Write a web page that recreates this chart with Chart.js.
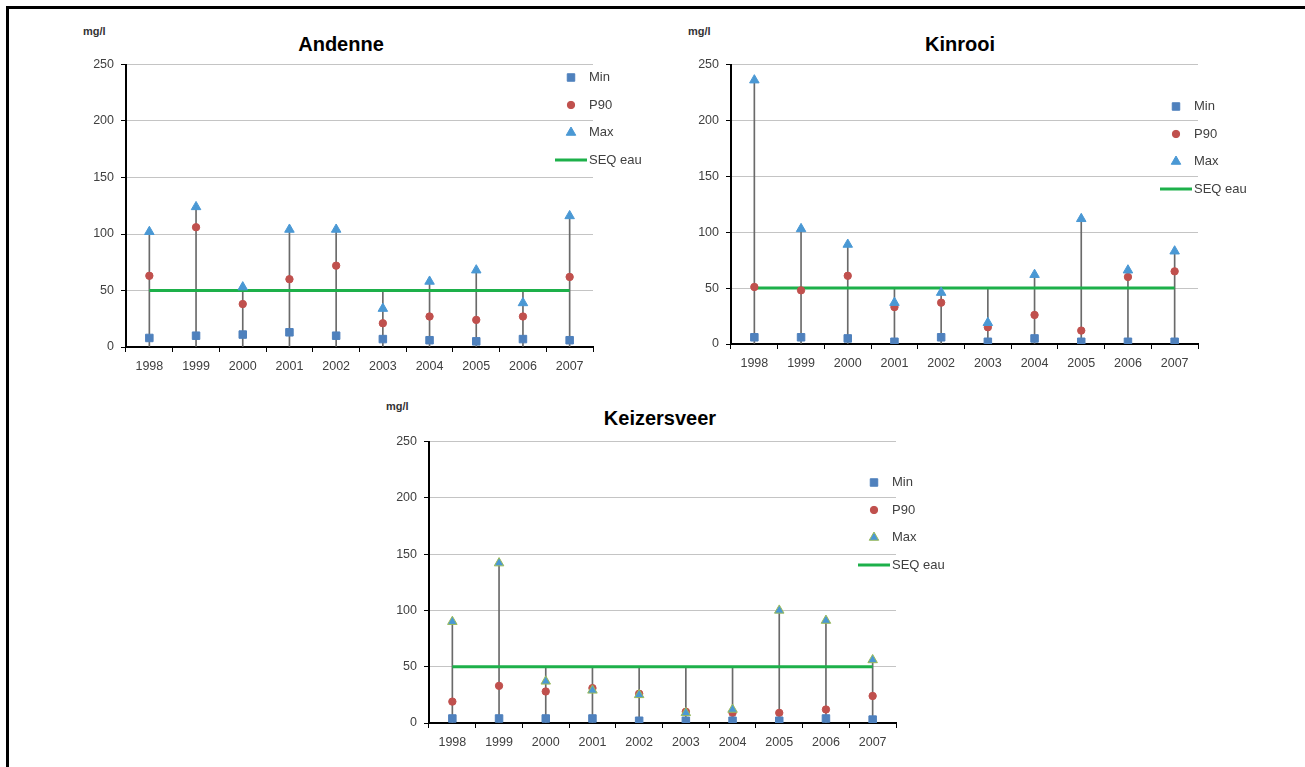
<!DOCTYPE html>
<html>
<head>
<meta charset="utf-8">
<script src="https://cdn.jsdelivr.net/npm/chart.js@4.4.0/dist/chart.umd.min.js"></script>
<style>
  body { margin:0; background:#fff; width:1305px; height:767px; overflow:hidden; position:relative; font-family:"Liberation Sans", Arial, sans-serif; }
  .frame { position:absolute; left:6px; top:6px; right:0; bottom:0; border-top:3px solid #000; border-left:3px solid #000; }
  .title { position:absolute; font-weight:bold; font-size:20px; transform:translate(-50%,-50%); white-space:nowrap; color:#000; }
  .unit { position:absolute; font-weight:bold; font-size:11px; color:#333; transform:translate(0,-50%); }
  canvas { position:absolute; }
</style>
</head>
<body>
<div class="frame"></div>

<div class="unit" style="left:83px;top:31px">mg/l</div>
<div class="title" style="left:341px;top:44px">Andenne</div>
<canvas id="andenneChart" width="580" height="335" style="left:80px;top:50px"></canvas>

<div class="unit" style="left:688px;top:31px">mg/l</div>
<div class="title" style="left:960px;top:44px">Kinrooi</div>
<canvas id="kinrooiChart" width="580" height="332" style="left:685px;top:50px"></canvas>

<div class="unit" style="left:386px;top:406px">mg/l</div>
<div class="title" style="left:660px;top:418px">Keizersveer</div>
<canvas id="keizersveerChart" width="580" height="334" style="left:383px;top:427px"></canvas>

<script>
// 年
const years = ['1998', '1999', '2000', '2001', '2002', '2003', '2004', '2005', '2006', '2007'];
const seqEau = [50, 50, 50, 50, 50, 50, 50, 50, 50, 50];

// Andenne
const andenneMin = [8, 10, 11, 13, 10, 7, 6, 5, 7, 6];
const andenneP90 = [63, 106, 38, 60, 72, 21, 27, 24, 27, 62];
const andenneMax = [102, 124, 53, 104, 104, 34, 58, 68, 39, 116];

// Kinrooi
const kinrooiMin = [6, 6, 5, 2, 6, 2, 5, 2, 2, 2];
const kinrooiP90 = [51, 48, 61, 33, 37, 15, 26, 12, 60, 65];
const kinrooiMax = [236, 103, 89, 37, 46, 19, 62, 112, 66, 83];

// Keizersveer
const keizersveerMin = [4, 4, 4, 4, 2, 2, 2, 2, 4, 3];
const keizersveerP90 = [19, 33, 28, 31, 26, 10, 9, 9, 12, 24];
const keizersveerMax = [90, 142, 37, 29, 25, 9, 12, 100, 91, 56];

const fontFamily = '"Liberation Sans", Arial, sans-serif';
const textColor = '#404040';

// legend drawn inside the plot, like the excel one
const seqLegend = {
  id: 'seqLegend',
  afterDraw(chart, args, opts) {
    const ctx = chart.ctx;
    const area = chart.chartArea;
    const markerX = area.right - 22;
    const textX = area.right - 4;
    let y = area.top + opts.offset;
    ctx.save();
    ctx.font = '13px ' + fontFamily;
    ctx.textBaseline = 'middle';
    chart.data.datasets.forEach(ds => {
      if (!ds.label) return;
      if (ds.pointRadius > 0) {
        ctx.fillStyle = ds.backgroundColor;
        ctx.strokeStyle = ds.borderColor;
        ctx.lineWidth = 1;
        Chart.helpers.drawPoint(ctx, {pointStyle: ds.pointStyle, radius: ds.pointRadius, rotation: 0, borderWidth: 1}, markerX, y);
      } else {
        ctx.strokeStyle = ds.borderColor;
        ctx.lineWidth = ds.borderWidth;
        ctx.beginPath();
        ctx.moveTo(area.right - 38, y);
        ctx.lineTo(area.right - 6, y);
        ctx.stroke();
      }
      ctx.fillStyle = textColor;
      ctx.fillText(ds.label, textX, y);
      y += 27.5;
    });
    ctx.restore();
  }
};

function makeChart(id, minData, p90Data, maxData, legendOffset, maxBorder) {
  // drop lines: from 0 to the highest point of the year
  const drops = years.map((y, i) => [0, Math.max(minData[i], p90Data[i], maxData[i], seqEau[i])]);

  const ctx = document.getElementById(id);
  return new Chart(ctx, {
    type: 'line',
    data: {
      labels: years,
      datasets: [
        {label: 'Min', data: minData, showLine: false, pointStyle: 'rect', pointRadius: 5.3, pointHoverRadius: 5.3,
          backgroundColor: '#4F81BD', borderColor: '#4F81BD', order: 1},
        {label: 'P90', data: p90Data, showLine: false, pointStyle: 'circle', pointRadius: 3.7, pointHoverRadius: 3.7,
          backgroundColor: '#C0504D', borderColor: '#C0504D', order: 2},
        {label: 'Max', data: maxData, showLine: false, pointStyle: 'triangle', pointRadius: 5.5, pointHoverRadius: 5.5,
          backgroundColor: '#4A98D4', borderColor: maxBorder, order: 0},
        {label: 'SEQ eau', data: seqEau, borderColor: '#1DB04A', borderWidth: 3, pointRadius: 0, order: 5},
        {type: 'bar', data: drops, backgroundColor: '#6A6A6A', barThickness: 1, order: 10}
      ]
    },
    options: {
      responsive: false,
      animation: false,
      events: [],
      layout: {padding: {top: 11, left: 0, right: 67, bottom: 0}},
      plugins: {
        legend: {display: false},
        tooltip: {enabled: false},
        seqLegend: {offset: legendOffset}
      },
      scales: {
        x: {
          offset: true,
          grid: {offset: true, drawOnChartArea: false, tickLength: 5, tickColor: '#000'},
          border: {color: '#000', width: 2},
          ticks: {color: textColor, font: {size: 12.5, family: fontFamily}, padding: 7, maxRotation: 0},
          afterFit(scale) { scale.height = 38; }
        },
        y: {
          min: 0,
          max: 250,
          ticks: {stepSize: 50, color: textColor, font: {size: 12.5, family: fontFamily}, padding: 7},
          grid: {color: '#C4C4C4', tickLength: 5, tickColor: '#000'},
          border: {color: '#000', width: 2},
          afterFit(scale) { scale.width = 46; }
        }
      }
    },
    plugins: [seqLegend]
  });
}

makeChart('andenneChart', andenneMin, andenneP90, andenneMax, 13, '#4A98D4');
makeChart('kinrooiChart', kinrooiMin, kinrooiP90, kinrooiMax, 42, '#4A98D4');
makeChart('keizersveerChart', keizersveerMin, keizersveerP90, keizersveerMax, 41, '#9BBB59');
</script>
</body>
</html>
